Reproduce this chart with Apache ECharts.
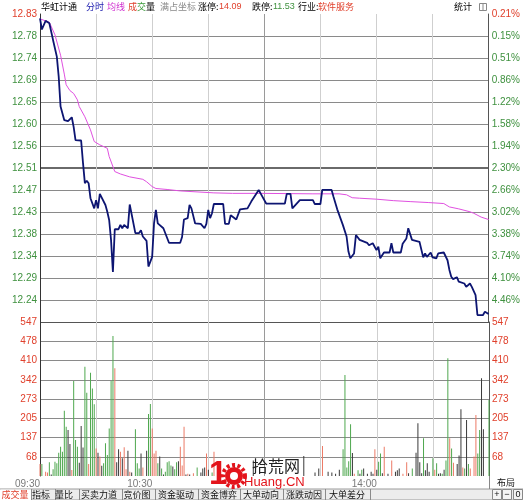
<!DOCTYPE html>
<html><head><meta charset="utf-8">
<script src="https://cdn.jsdelivr.net/npm/echarts@6/dist/echarts.min.js"></script>
<style>html,body{margin:0;padding:0;background:#fff}#c{width:523px;height:500px}</style>
</head><body><div id="c"></div>
<script>
// ---- tick labels ----
const timeLabels = ['09:30','','10:30','','','','14:00','',''];
const priceLabels = ['','12.24','12.29','12.34','12.38','12.43','12.47','12.51','12.56','12.60','12.65','12.69','12.74','12.78','12.83'];
const pctLabels = ['','4.46%','4.10%','3.74%','3.38%','3.02%','2.66%','2.30%','1.94%','1.58%','1.22%','0.86%','0.51%','0.15%','0.21%'];
const volLabels = ['','68','137','205','273','342','410','478','547'];
const PMAX = 12.83, PSTEP = (12.83 - 12.24) / 13, PMIN = PMAX - 14 * PSTEP;
const VMAX = 547;

// ---- price (minute index, price) ----
const priceLine = [[0,12.821],[1,12.798],[3,12.816],[5,12.811],[7,12.776],[9,12.742],[10,12.701],[11,12.639],[12,12.636],[13,12.611],[15,12.609],[17,12.617],[18,12.597],[19,12.570],[22,12.569],[23,12.523],[24,12.481],[25,12.486],[26,12.481],[27,12.450],[29,12.429],[30,12.446],[31,12.429],[32,12.459],[33,12.455],[35,12.436],[36,12.422],[37,12.405],[38,12.364],[39,12.298],[40,12.386],[42,12.386],[43,12.395],[44,12.388],[45,12.395],[47,12.388],[48,12.437],[49,12.437],[51,12.378],[53,12.378],[54,12.384],[55,12.371],[57,12.362],[58,12.309],[60,12.329],[61,12.398],[62,12.426],[63,12.398],[64,12.397],[66,12.388],[67,12.386],[69,12.358],[75,12.358],[76,12.370],[77,12.406],[79,12.409],[80,12.436],[81,12.429],[82,12.432],[83,12.398],[86,12.397],[88,12.388],[89,12.397],[90,12.426],[91,12.409],[92,12.419],[93,12.438],[98,12.438],[99,12.397],[101,12.397],[102,12.415],[103,12.417],[105,12.406],[107,12.427],[111,12.429],[113,12.443],[115,12.455],[117,12.467],[118,12.460],[121,12.439],[131,12.439],[132,12.459],[134,12.459],[135,12.429],[136,12.427],[139,12.446],[146,12.446],[147,12.438],[150,12.438],[151,12.467],[156,12.467],[157,12.453],[159,12.427],[160,12.427],[162,12.395],[164,12.371],[165,12.340],[166,12.326],[168,12.336],[169,12.374],[171,12.364],[175,12.358],[176,12.353],[178,12.357],[180,12.343],[181,12.350],[182,12.326],[184,12.338],[187,12.338],[188,12.357],[189,12.338],[193,12.338],[194,12.356],[196,12.367],[197,12.388],[198,12.388],[199,12.364],[200,12.360],[203,12.360],[205,12.328],[206,12.336],[207,12.329],[209,12.338],[210,12.328],[211,12.329],[212,12.326],[213,12.336],[216,12.338],[218,12.322],[219,12.302],[220,12.288],[221,12.283],[223,12.287],[224,12.278],[225,12.278],[227,12.274],[228,12.267],[230,12.274],[231,12.267],[232,12.264],[233,12.250],[234,12.209],[237,12.209],[238,12.216],[240,12.211]];

const avgLine = [[0,12.820],[5,12.813],[8,12.787],[11,12.745],[13,12.706],[14,12.684],[16,12.672],[18,12.666],[20,12.653],[21,12.639],[24,12.618],[27,12.591],[29,12.567],[32,12.560],[36,12.553],[37,12.536],[40,12.505],[43,12.500],[48,12.494],[55,12.489],[57,12.484],[60,12.474],[62,12.470],[68,12.468],[75,12.465],[93,12.461],[103,12.460],[118,12.460],[146,12.459],[160,12.459],[164,12.457],[167,12.451],[171,12.450],[180,12.448],[189,12.445],[198,12.443],[208,12.441],[216,12.439],[219,12.432],[224,12.428],[230,12.422],[232,12.419],[236,12.411],[240,12.406]];

// ---- volume (minute index, volume) ----
const volUp = [[0,43],[3,15],[4,12],[17,21],[26,43],[30,98],[32,69],[40,383],[43,86],[45,102],[46,24],[48,15],[55,30],[60,169],[61,80],[62,90],[75,104],[76,37],[77,175],[79,8],[82,10],[89,80],[93,86],[151,107],[168,8],[179,95],[184,104],[188,55],[194,8],[196,49],[211,22],[219,134],[221,47],[226,30],[230,27],[232,69],[233,217]];
const volDown = [[1,43],[5,49],[7,24],[8,51],[9,45],[10,83],[11,104],[12,86],[13,232],[14,175],[18,337],[19,128],[20,104],[24,388],[25,296],[27,367],[28,311],[29,255],[34,45],[35,116],[36,75],[37,169],[38,337],[39,497],[51,166],[52,45],[53,27],[58,220],[59,256],[63,45],[65,27],[67,15],[68,49],[69,52],[70,37],[72,24],[73,49],[84,30],[92,12],[162,95],[163,359],[164,30],[165,52],[166,184],[170,20],[172,22],[181,51],[182,80],[199,27],[205,134],[210,63],[212,45],[215,8],[217,55],[218,418],[220,98],[227,27],[229,43],[234,80],[235,163],[240,270]];
const volFlat = [[6,5],[15,163],[16,114],[21,47],[22,178],[23,101],[31,83],[33,36],[41,49],[42,95],[44,63],[47,90],[49,12],[54,80],[57,90],[64,69],[66,5],[71,34],[74,52],[78,5],[80,5],[86,12],[87,27],[88,30],[90,22],[104,40],[114,55],[141,71],[147,12],[149,27],[154,15],[156,12],[158,8],[160,22],[167,82],[171,8],[173,27],[175,8],[177,15],[178,8],[180,22],[183,10],[186,8],[190,15],[191,20],[192,27],[197,10],[201,83],[202,187],[203,49],[204,10],[206,20],[207,45],[208,15],[213,8],[214,10],[216,22],[223,43],[224,73],[225,237],[228,199],[236,347],[237,166]];

const RED = '#e0402c', GREEN = '#3f913f';
const chart = echarts.init(document.getElementById('c'), null, {renderer: 'canvas'});
const FONT = '"Liberation Sans", Arial, sans-serif';
const CJK = '"Noto Sans CJK SC", sans-serif';

const vLight = '#cfcfcf';
const xSplitColors = ['#444', vLight, vLight, vLight, '#9a9a9a', vLight, vLight, vLight, '#666'];
const hGrid = '#8a8a8a';
const pSplitColors = ['#555'].concat(Array(13).fill(hGrid)).concat(['rgba(0,0,0,0)']);
const vSplitColors = ['rgba(0,0,0,0)'].concat(Array(7).fill(hGrid)).concat(['#555']);

function xAxisDef(grid, labels) {
  return {
    type: 'value', gridIndex: grid, min: 0, max: 240, interval: 30,
    axisLine: {show: false}, axisTick: {show: false},
    axisLabel: labels ? {show: true, formatter: v => timeLabels[Math.round(v / 30)] || '', align: 'right',
      color: '#7a7a7a', fontSize: 10, fontFamily: FONT, margin: 3, showMinLabel: true, showMaxLabel: true} : {show: false},
    splitLine: {show: true, lineStyle: {color: xSplitColors, width: 1}}
  };
}

const tabs = [
  ['成交量', 15, true], ['指标', 41], ['量比', 64], ['买卖力道', 99], ['竞价图', 137], ['资金驱动', 176],
  ['资金博弈', 219], ['大单动向', 261], ['涨跌动因', 304], ['大单差分', 347]
];
const tabSeps = [31, 55, 79, 122, 155, 198, 240, 283, 325, 370];

const graphic = [];
// header
const hdr = [
  [41, '华虹计通', '#000'], [86, '分时', '#2222b0'], [107, '均线', '#d030d0'],
  [128, '成', RED], [137, '交', '#3a9a3a'], [146, '量', '#000'],
  [160, '满占坐标', '#8a8a8a'], [198, '涨停:', '#000'], [219, '14.09', RED],
  [252, '跌停:', '#000'], [273, '11.53', GREEN], [298, '行业:', '#000'], [318, '软件服务', RED],
  [454, '统计', '#000']
];
hdr.forEach(h => graphic.push({type: 'text', left: h[0], top: 2, z: 10,
  style: {text: h[1], fill: h[2], font: '9px ' + (/[0-9]/.test(h[1]) && !/[\u4e00-\u9fff]/.test(h[1]) ? FONT : CJK)}}));
graphic.push({type: 'rect', shape: {x: 479.5, y: 3.5, width: 7, height: 7}, style: {fill: '#fff', stroke: '#888'}, z: 10});
graphic.push({type: 'line', shape: {x1: 483, y1: 4, x2: 483, y2: 10}, style: {stroke: '#888'}, z: 10});

// bottom tab bar
graphic.push({type: 'rect', shape: {x: 0, y: 489, width: 523, height: 11}, style: {fill: '#ececec', stroke: '#9a9a9a', lineWidth: 1}, z: 5});
graphic.push({type: 'rect', shape: {x: 0, y: 489.5, width: 31, height: 10.5}, style: {fill: '#fff'}, z: 6});
tabSeps.forEach(x => graphic.push({type: 'line', shape: {x1: x + 0.5, y1: 489, x2: x + 0.5, y2: 500}, style: {stroke: '#8a8a8a', lineWidth: 1}, z: 7}));
tabs.forEach(t => graphic.push({type: 'text', x: t[1], y: 490, z: 8,
  style: {text: t[0], fill: t[2] ? RED : '#111', font: '9px ' + CJK, textAlign: 'center'}}));
[[492, '+'], [502, '−'], [513, '0']].forEach(b => {
  graphic.push({type: 'rect', shape: {x: b[0] + 0.5, y: 489.5, width: 9, height: 10}, style: {fill: '#f4f4f4', stroke: '#888'}, z: 7});
  graphic.push({type: 'text', x: b[0] + 5, y: 490, z: 8, style: {text: b[1], fill: '#111', font: '9px ' + FONT, textAlign: 'center'}});
});
graphic.push({type: 'line', shape: {x1: 489.5, y1: 476, x2: 489.5, y2: 489}, style: {stroke: '#888'}, z: 7});
graphic.push({type: 'text', x: 497, y: 478, z: 8, style: {text: '布局', fill: '#111', font: '9px ' + CJK}});

// watermark
graphic.push({type: 'text', x: 209, y: 458, z: 20, style: {text: '1', fill: '#e3141b', font: 'bold 33px ' + FONT}});
graphic.push({type: 'circle', shape: {cx: 234, cy: 476, r: 11}, style: {fill: 'none', stroke: '#e3141b', lineWidth: 4, lineDash: [3, 2.5]}, z: 20});
graphic.push({type: 'circle', shape: {cx: 234, cy: 476, r: 9}, style: {fill: '#e3141b'}, z: 21});
graphic.push({type: 'circle', shape: {cx: 234, cy: 476, r: 4}, style: {fill: '#fff'}, z: 22});
graphic.push({type: 'text', x: 252, y: 458, z: 20, style: {text: '拾荒网', fill: '#222', font: '16px ' + CJK}});
graphic.push({type: 'text', x: 244, y: 476, z: 20, style: {text: 'Huang.CN', fill: '#e3141b', font: '13px ' + FONT}});

const option = {
  animation: false,
  backgroundColor: '#fff',
  grid: [
    {left: 40, top: 14, width: 449, height: 308},
    {left: 40, top: 322, width: 449, height: 154}
  ],
  xAxis: [xAxisDef(0, false), xAxisDef(1, true)],
  yAxis: [
    {type: 'value', gridIndex: 0, min: PMIN, max: PMAX, show: false, splitLine: {show: false}},
    {type: 'value', gridIndex: 0, min: 0, max: 14, interval: 1, position: 'left',
      axisLine: {show: true, lineStyle: {color: '#333'}}, axisTick: {show: false},
      axisLabel: {formatter: v => priceLabels[Math.round(v)] || '', color: v => Math.round(v) === 14 ? RED : GREEN,
        fontSize: 10, fontFamily: FONT, margin: 3, showMinLabel: true, showMaxLabel: true},
      splitLine: {show: true, lineStyle: {color: pSplitColors, width: 1}}},
    {type: 'value', gridIndex: 0, min: 0, max: 14, interval: 1, position: 'right',
      axisLine: {show: true, lineStyle: {color: '#555'}}, axisTick: {show: false},
      axisLabel: {formatter: v => pctLabels[Math.round(v)] || '', color: v => Math.round(v) === 14 ? RED : GREEN,
        fontSize: 10, fontFamily: FONT, margin: 3, showMinLabel: true, showMaxLabel: true},
      splitLine: {show: false}},
    {type: 'value', gridIndex: 0, min: 0, max: 2, interval: 1, position: 'left',
      axisLine: {show: false}, axisTick: {show: false}, axisLabel: {show: false},
      splitLine: {show: true, lineStyle: {color: ['rgba(0,0,0,0)', '#6a6a6a', 'rgba(0,0,0,0)'], width: 2}}},
    {type: 'value', gridIndex: 1, min: 0, max: VMAX, interval: VMAX / 8, position: 'left',
      axisLine: {show: true, lineStyle: {color: '#333'}}, axisTick: {show: false},
      axisLabel: {formatter: v => volLabels[Math.round(v / (VMAX / 8))] || '', color: RED,
        fontSize: 10, fontFamily: FONT, margin: 3, showMinLabel: true, showMaxLabel: true},
      splitLine: {show: true, lineStyle: {color: vSplitColors, width: 1}}},
    {type: 'value', gridIndex: 1, min: 0, max: VMAX, interval: VMAX / 8, position: 'right',
      axisLine: {show: true, lineStyle: {color: '#555'}}, axisTick: {show: false},
      axisLabel: {formatter: v => volLabels[Math.round(v / (VMAX / 8))] || '', color: RED,
        fontSize: 10, fontFamily: FONT, margin: 3, showMinLabel: true, showMaxLabel: true},
      splitLine: {show: false}}
  ],
  series: [
    {type: 'line', xAxisIndex: 0, yAxisIndex: 0, data: avgLine, symbol: 'none', z: 3,
      lineStyle: {color: '#e050e0', width: 1}},
    {type: 'line', xAxisIndex: 0, yAxisIndex: 0, data: priceLine, symbol: 'none', z: 4,
      lineStyle: {color: '#0d1572', width: 1.8}},
    {type: 'bar', xAxisIndex: 1, yAxisIndex: 4, data: volUp, barWidth: 1, barGap: '-100%', itemStyle: {color: '#ec7a66'}},
    {type: 'bar', xAxisIndex: 1, yAxisIndex: 4, data: volDown, barWidth: 1, barGap: '-100%', itemStyle: {color: '#4fa84f'}},
    {type: 'bar', xAxisIndex: 1, yAxisIndex: 4, data: volFlat, barWidth: 1, barGap: '-100%', itemStyle: {color: '#3a3a3a'}}
  ],
  graphic: graphic
};
chart.setOption(option);
</script></body></html>
